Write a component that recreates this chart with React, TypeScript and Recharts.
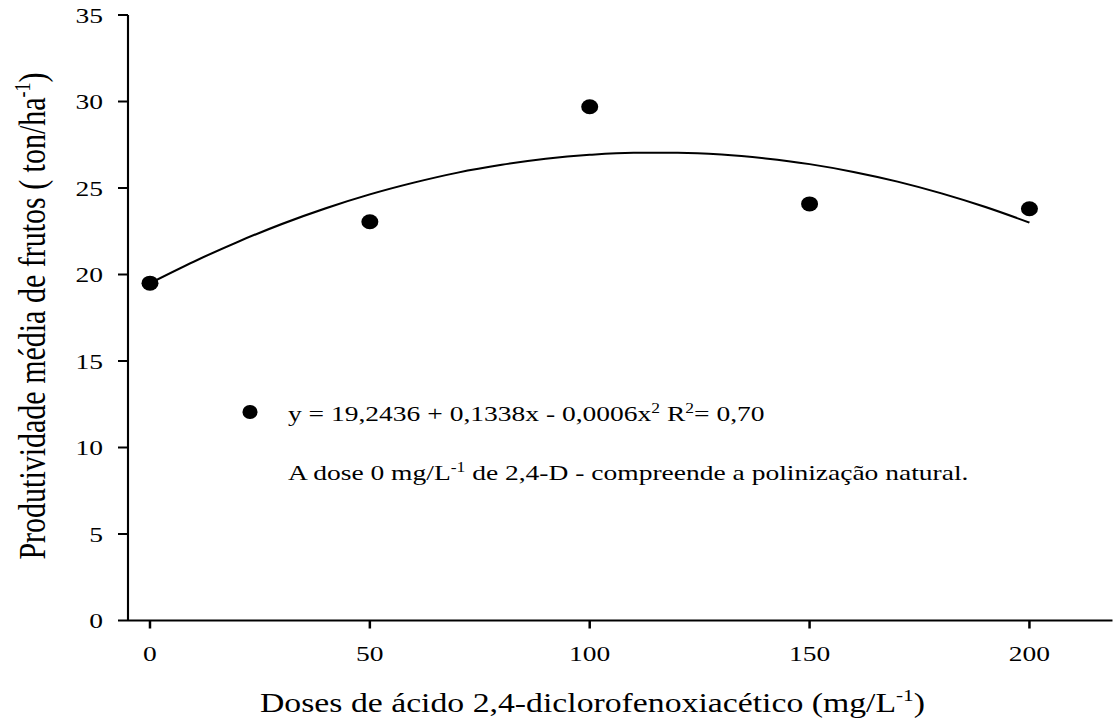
import { ComposedChart, Line, Scatter, XAxis, YAxis, Label } from 'recharts'

// observed means per dose
const doses = [0, 50, 100, 150, 200]
const yields = [19.5, 23.05, 29.7, 24.08, 23.8]

// fitted quadratic curve, every 10 mg/L
const curveX = [0, 10, 20, 30, 40, 50, 60, 70, 80, 90, 100, 110, 120, 130, 140, 150, 160, 170, 180, 190, 200]
const curveY = [
  19.5, 20.75, 21.89, 22.92, 23.83, 24.63, 25.31, 25.89, 26.34, 26.69, 26.92, 27.04, 27.04, 26.94, 26.71,
  26.38, 25.93, 25.37, 24.69, 23.9, 23.0,
]

const xTicks = [0, 50, 100, 150, 200]
const yTicks = [0, 5, 10, 15, 20, 25, 30, 35]

const points = doses.map((x, i) => ({ x, y: yields[i] }))
const curve = curveX.map((x, i) => ({ x, fit: curveY[i] }))

// the original figure is stretched sideways, so draw narrow and widen it
const STRETCH = 1.25
const W = 1113 / STRETCH
const H = 728

const FONT = '"Liberation Serif", "Times New Roman", serif'
const tickStyle = { fill: '#000', fontSize: 22, fontFamily: FONT }
const sup = { fontSize: 14, position: 'relative' as const, top: -8 }

function Note() {
  const line = { position: 'absolute' as const, left: 230.4, fontFamily: FONT, fontSize: 22, lineHeight: '22px', whiteSpace: 'nowrap' as const, color: '#000' }
  return (
    <>
      <div
        style={{ position: 'absolute', left: 200 - 5.8, top: 412 - 6.8, width: 11.6, height: 13.6, borderRadius: '50%', background: '#000' }}
      />
      <div style={{ ...line, top: 402.5 }}>
        y = 19,2436 + 0,1338x - 0,0006x<span style={sup}>2</span> R<span style={sup}>2</span>= 0,70
      </div>
      <div style={{ ...line, top: 461.6 }}>
        A dose 0 mg/L<span style={sup}>-1</span> de 2,4-D - compreende a polinização natural.
      </div>
    </>
  )
}

export default function App() {
  return (
    <div style={{ position: 'absolute', left: 0, top: 0, width: 1113, height: H, overflow: 'hidden', background: '#fff' }}>
      <div style={{ position: 'relative', width: W, height: H, transform: `scaleX(${STRETCH})`, transformOrigin: '0 0' }}>
        <ComposedChart width={W} height={H} margin={{ top: 15, right: 0, bottom: 0, left: 0 }}>
          <XAxis
            type="number"
            dataKey="x"
            domain={[-5, 219]}
            ticks={xTicks}
            height={107.5}
            tickSize={8}
            tickMargin={17}
            tick={tickStyle}
            axisLine={{ stroke: '#000', strokeWidth: 2 }}
            tickLine={{ stroke: '#000', strokeWidth: 2 }}
            allowDataOverflow
          >
            <Label
              position="insideBottom"
              content={() => (
                <text x={208} y={712} fontFamily={FONT} fontSize={27} fill="#000">
                  Doses de ácido 2,4-diclorofenoxiacético (mg/L
                  <tspan dy={-11} fontSize={17}>-1</tspan>
                  <tspan dy={11}>)</tspan>
                </text>
              )}
            />
          </XAxis>
          <YAxis
            type="number"
            domain={[0, 35]}
            ticks={yTicks}
            width={128 / STRETCH}
            tickSize={8}
            tickMargin={12}
            tick={tickStyle}
            axisLine={{ stroke: '#000', strokeWidth: 1.7 }}
            tickLine={{ stroke: '#000', strokeWidth: 2 }}
          >
            <Label
              position="insideLeft"
              content={() => {
                const cx = 36
                const cy = 316
                return (
                  <text
                    x={cx}
                    y={cy}
                    transform={`rotate(-90 ${cx} ${cy})`}
                    textAnchor="middle"
                    fontFamily={FONT}
                    fontSize={30}
                    fill="#000"
                  >
                    Produtividade média de frutos ( ton/ha
                    <tspan dy={-12} fontSize={18}>-1</tspan>
                    <tspan dy={12}>)</tspan>
                  </text>
                )
              }}
            />
          </YAxis>
          <Line
            data={curve}
            dataKey="fit"
            type="monotone"
            stroke="#000"
            strokeWidth={2}
            dot={false}
            isAnimationActive={false}
            legendType="none"
          />
          <Scatter
            data={points}
            dataKey="y"
            fill="#000"
            isAnimationActive={false}
            shape={(p: any) => <ellipse cx={p.cx} cy={p.cy} rx={6.8} ry={7.5} fill="#000" />}
          />
        </ComposedChart>
        <Note />
      </div>
    </div>
  )
}
